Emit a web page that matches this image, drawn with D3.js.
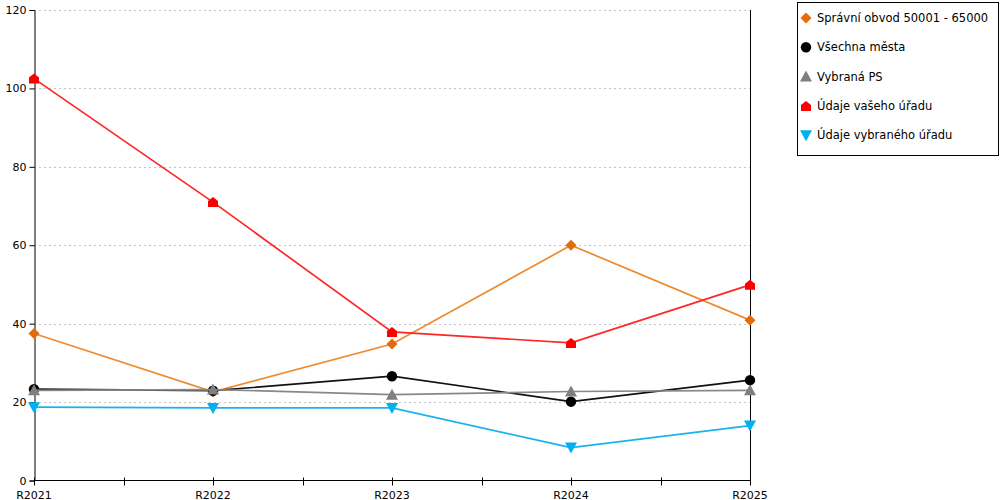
<!DOCTYPE html>
<html>
<head>
<meta charset="utf-8">
<script src="https://cdn.jsdelivr.net/npm/d3@7"></script>
<style>
  body { margin: 0; background: #fff; }
  svg { display: block; font-family: "DejaVu Sans", Verdana, sans-serif; }
</style>
</head>
<body>
<svg id="chart"></svg>
<script>
// categories and series
let years = ["R2021", "R2022", "R2023", "R2024", "R2025"];
let yTicks = [0, 20, 40, 60, 80, 100, 120];

let obvod = [37.5, 22.6, 34.8, 60.0, 40.9];
let mesta = [23.3, 22.9, 26.6, 20.1, 25.6];
let vybranaPS = [23.0, 23.2, 21.9, 22.7, 23.0];
let vasUrad = [102.5, 71.0, 37.9, 35.1, 49.9];
let vybranyUrad = [18.7, 18.5, 18.5, 8.4, 14.0];

let series = [
  { name: "Správní obvod 50001 - 65000", values: obvod, line: "#ef8a2e", fill: "#e36c09", shape: "diamond" },
  { name: "Všechna města", values: mesta, line: "#111111", fill: "#000000", shape: "circle" },
  { name: "Vybraná PS", values: vybranaPS, line: "#888888", fill: "#7f7f7f", shape: "up" },
  { name: "Údaje vašeho úřadu", values: vasUrad, line: "#ff2626", fill: "#ff0000", shape: "house" },
  { name: "Údaje vybraného úřadu", values: vybranyUrad, line: "#1ab2ee", fill: "#00b0f0", shape: "down" }
];

let width = 1000, height = 500;
let svg = d3.select("#chart").attr("width", width).attr("height", height);

let plotLeft = 34, plotRight = 750, plotTop = 10, plotBottom = 480.5;

let x = d3.scalePoint().domain(years).range([plotLeft, plotRight]);
let y = d3.scaleLinear().domain([0, 120]).range([plotBottom, plotTop]);

// dotted grid
svg.append("g")
  .selectAll("line")
  .data(yTicks.filter(d => d > 0))
  .join("line")
  .attr("x1", plotLeft)
  .attr("x2", plotRight)
  .attr("y1", d => Math.round(y(d)) + 0.5)
  .attr("y2", d => Math.round(y(d)) + 0.5)
  .attr("stroke", "#c4c4c4")
  .attr("stroke-dasharray", "2,3");

// right border line
svg.append("line")
  .attr("x1", plotRight + 0.5).attr("x2", plotRight + 0.5)
  .attr("y1", plotTop).attr("y2", plotBottom)
  .attr("stroke", "#000");

// y axis
let yAxis = svg.append("g")
  .attr("transform", `translate(${plotLeft + 0.5},0)`)
  .call(d3.axisLeft(y).tickValues(yTicks).tickSize(5).tickPadding(3));
yAxis.attr("font-family", null);
yAxis.selectAll("text").style("font-size", "11px").attr("fill", "#000");

// x axis, ticks crossing the line at categories and midpoints
let step = x.step();
let tickPos = [];
years.forEach((d, i) => {
  tickPos.push(x(d));
  if (i < years.length - 1) tickPos.push(x(d) + step / 2);
});

let xAxis = svg.append("g").attr("transform", `translate(0,${Math.round(plotBottom) - 0.5})`);
xAxis.append("line")
  .attr("x1", plotLeft).attr("x2", plotRight + 1)
  .attr("stroke", "#000");
xAxis.selectAll("line.tick")
  .data(tickPos)
  .join("line")
  .attr("class", "tick")
  .attr("x1", d => Math.round(d) + 0.5)
  .attr("x2", d => Math.round(d) + 0.5)
  .attr("y1", -3)
  .attr("y2", 5)
  .attr("stroke", "#000");
xAxis.selectAll("text")
  .data(years)
  .join("text")
  .attr("x", d => x(d))
  .attr("y", 18)
  .attr("text-anchor", "middle")
  .style("font-size", "11px")
  .text(d => d);

// marker shapes
let markerPath = function(shape) {
  switch (shape) {
    case "diamond": return "M0,-5.5L5.5,0L0,5.5L-5.5,0Z";
    case "circle": return d3.symbol(d3.symbolCircle, 85)();
    case "up": return "M0,-6L6,5L-6,5Z";
    case "down": return "M0,6L6,-5L-6,-5Z";
    case "house": return "M0,-5L5,-1L5,5L-5,5L-5,-1Z";
  }
};

let line = d3.line()
  .x((d, i) => x(years[i]))
  .y(d => y(d));

series.forEach(function(s) {
  let g = svg.append("g");
  g.append("path")
    .datum(s.values)
    .attr("d", line)
    .attr("fill", "none")
    .attr("stroke", s.line)
    .attr("stroke-width", 1.7);
  g.selectAll("path.m")
    .data(s.values)
    .join("path")
    .attr("class", "m")
    .attr("transform", (d, i) => `translate(${x(years[i])},${y(d)})`)
    .attr("d", markerPath(s.shape))
    .attr("fill", s.fill);
});

// legend
let legend = svg.append("g");
legend.append("rect")
  .attr("x", 797.5).attr("y", 2.5)
  .attr("width", 201).attr("height", 153)
  .attr("fill", "#fff")
  .attr("stroke", "#000");

let item = legend.selectAll("g.item")
  .data(series)
  .join("g")
  .attr("class", "item")
  .attr("transform", (d, i) => `translate(806,${18 + i * 29.3})`);
item.append("path")
  .attr("d", d => markerPath(d.shape))
  .attr("fill", d => d.fill);
item.append("text")
  .attr("x", 11)
  .attr("y", 4)
  .style("font-size", "11.5px")
  .text(d => d.name);
</script>
</body>
</html>
